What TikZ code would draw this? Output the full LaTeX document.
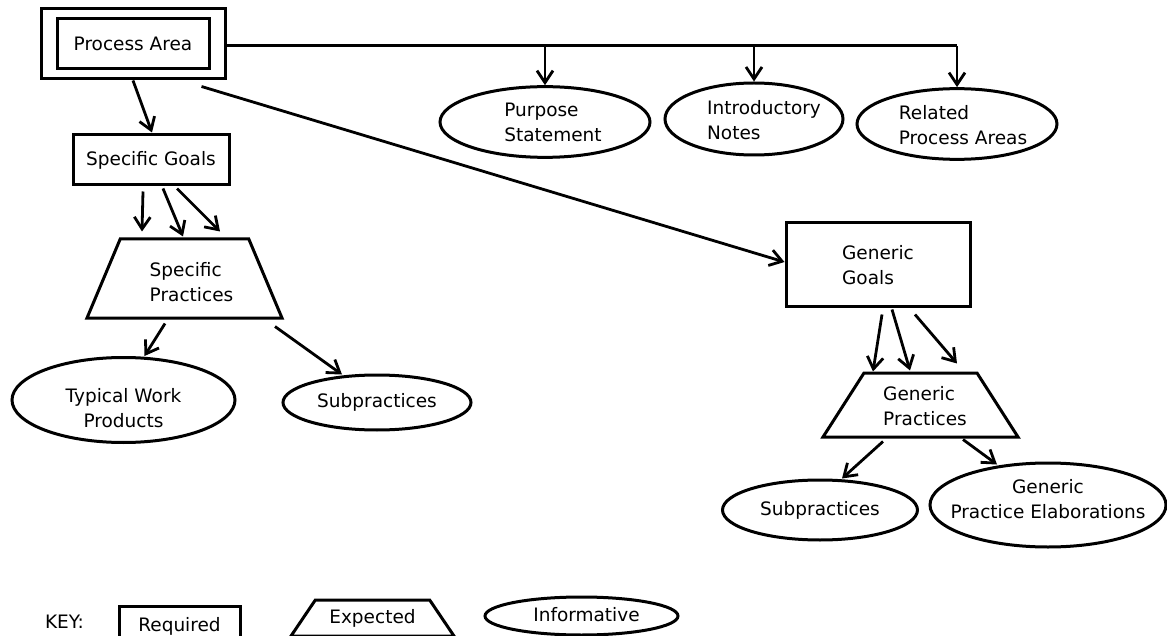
\documentclass[tikz,border=0pt]{standalone}
\usepackage{fontspec}
\setmainfont{DejaVu Sans}
\usetikzlibrary{shapes.geometric,arrows.meta,calc}
% text set in a zero-width box, so the shape size comes from its minimum width/height;
% #1 column alignment, #2 horizontal offset (twice the shift), #3 vertical raise, #4 text
\newcommand{\shapetext}[4]{\makebox[0pt]{\hspace*{#2}\raisebox{#3}[\height][\depth]{\begin{tabular}{@{}#1@{}}#4\end{tabular}}}}
\begin{document}
\begin{tikzpicture}[x=1pt,y=-1pt,
  every node/.style={font=\fontsize{18.5}{25}\selectfont},
  req/.style={draw,line width=3pt,rectangle,inner sep=2pt},
  expd/.style={draw,line width=3pt,trapezium,trapezium stretches body,inner xsep=0pt,inner ysep=2pt},
  info/.style={draw,line width=3pt,ellipse,inner sep=0pt},
  conn/.style={line width=2.8pt,-{Straight Barb[length=12pt,width=16pt]}},
  bus/.style={line width=3pt},
]
\useasboundingbox (0,0) rectangle (1167,636);

% process area (double frame)
\node[req,minimum width=184,minimum height=70] (paout) at (133,44) {};
\node[req,minimum width=152,minimum height=50] (pa) at (133,44) {Process Area};

% informative items on the top bus
\node[info,minimum width=210,minimum height=70] (ps) at (545,122) {\shapetext{l}{16pt}{-2.5pt}{Purpose\\Statement}};
\node[info,minimum width=178,minimum height=72] (in) at (754,119) {\shapetext{l}{20pt}{-3.5pt}{Introductory\\Notes}};
\node[info,minimum width=200,minimum height=68] (rpa) at (957,124) {\shapetext{l}{12pt}{-3.5pt}{Related\\Process Areas}};

% specific side
\node[req,minimum width=156,minimum height=50] (sg) at (151,160) {Specific Goals};
\node[expd,minimum width=195,minimum height=79,trapezium angle=58.4] (sp) at (184.5,278.5) {\shapetext{l}{14pt}{-6pt}{Specific\\Practices}};
\node[info,minimum width=223,minimum height=85] (twp) at (123.5,400) {\shapetext{c}{0pt}{-9.5pt}{Typical Work\\Products}};
\node[info,minimum width=188,minimum height=55] (sub1) at (377,402.5) {\shapetext{c}{0pt}{0pt}{Subpractices}};

% generic side
\node[req,minimum width=184,minimum height=84,align=left] (gg) at (878,265) {Generic\\Goals};
\node[expd,minimum width=195,minimum height=64,trapezium angle=52.8] (gp) at (920.5,405) {\shapetext{l}{9pt}{-2.5pt}{Generic\\Practices}};
\node[info,minimum width=195,minimum height=60] (sub2) at (820,510) {\shapetext{c}{0pt}{0pt}{Subpractices}};
\node[info,minimum width=236,minimum height=84] (gpe) at (1048,505) {\shapetext{c}{0pt}{4.5pt}{Generic\\Practice Elaborations}};

% key
\node (key) at (64.5,622) {KEY:};
\node[req,minimum width=121,minimum height=40] (kreq) at (179.5,626) {Required};
\node[expd,minimum width=163,minimum height=36,trapezium angle=42] (kexp) at (372.5,618) {Expected};
\node[info,minimum width=193,minimum height=38] (kinf) at (581.5,616) {\shapetext{c}{10pt}{0pt}{Informative}};

% bus from the process area
\coordinate (busstart) at ($(paout.east)+(0,2)$);
\draw[bus] (busstart) -- (rpa.north |- busstart);
\draw[conn] (rpa.north |- busstart) -- (rpa.north);
\draw[conn] (ps.north |- busstart) -- (ps.north);
\draw[conn] (in.north |- busstart) -- (in.north);

% process area to goals
\draw[conn] (paout.south) -- ($(sg.north)+(1,-1)$);
\draw[conn] ($(paout.south east)+(-25,6)$) -- ($(gg.west)+(0,-3)$);

% specific goals to specific practices
\draw[conn] ($(sg.south)+(-8,5)$) -- ($(sp.north)+(-42.5,-6)$);
\draw[conn] ($(sg.south)+(12,2)$) -- ($(sp.north)+(-1.5,-1)$);
\draw[conn] ($(sg.south)+(26,2)$) -- ($(sp.north)+(35.5,-6)$);

% specific practices to informative items
\draw[conn] ($(sp.south)+(-19.5,4)$) -- ($(twp.north)+(21,0)$);
\draw[conn] ($(sp.south)+(90.5,7)$) -- ($(sub1.north)+(-35,1)$);

% generic goals to generic practices
\draw[conn] ($(gg.south)+(4,6)$) -- ($(gp.north)+(-47.5,0)$);
\draw[conn] ($(gg.south)+(14,1)$) -- ($(gp.north)+(-10.5,-1)$);
\draw[conn] ($(gg.south)+(37,6)$) -- ($(gp.north)+(36.5,-8)$);

% generic practices to informative items
\draw[conn] ($(gp.south)+(-37.5,3)$) -- ($(sub2.north)+(22,0)$);
\draw[conn] ($(gp.south)+(42.5,1)$) -- ($(gpe.north)+(-51,3)$);
\end{tikzpicture}
\end{document}
